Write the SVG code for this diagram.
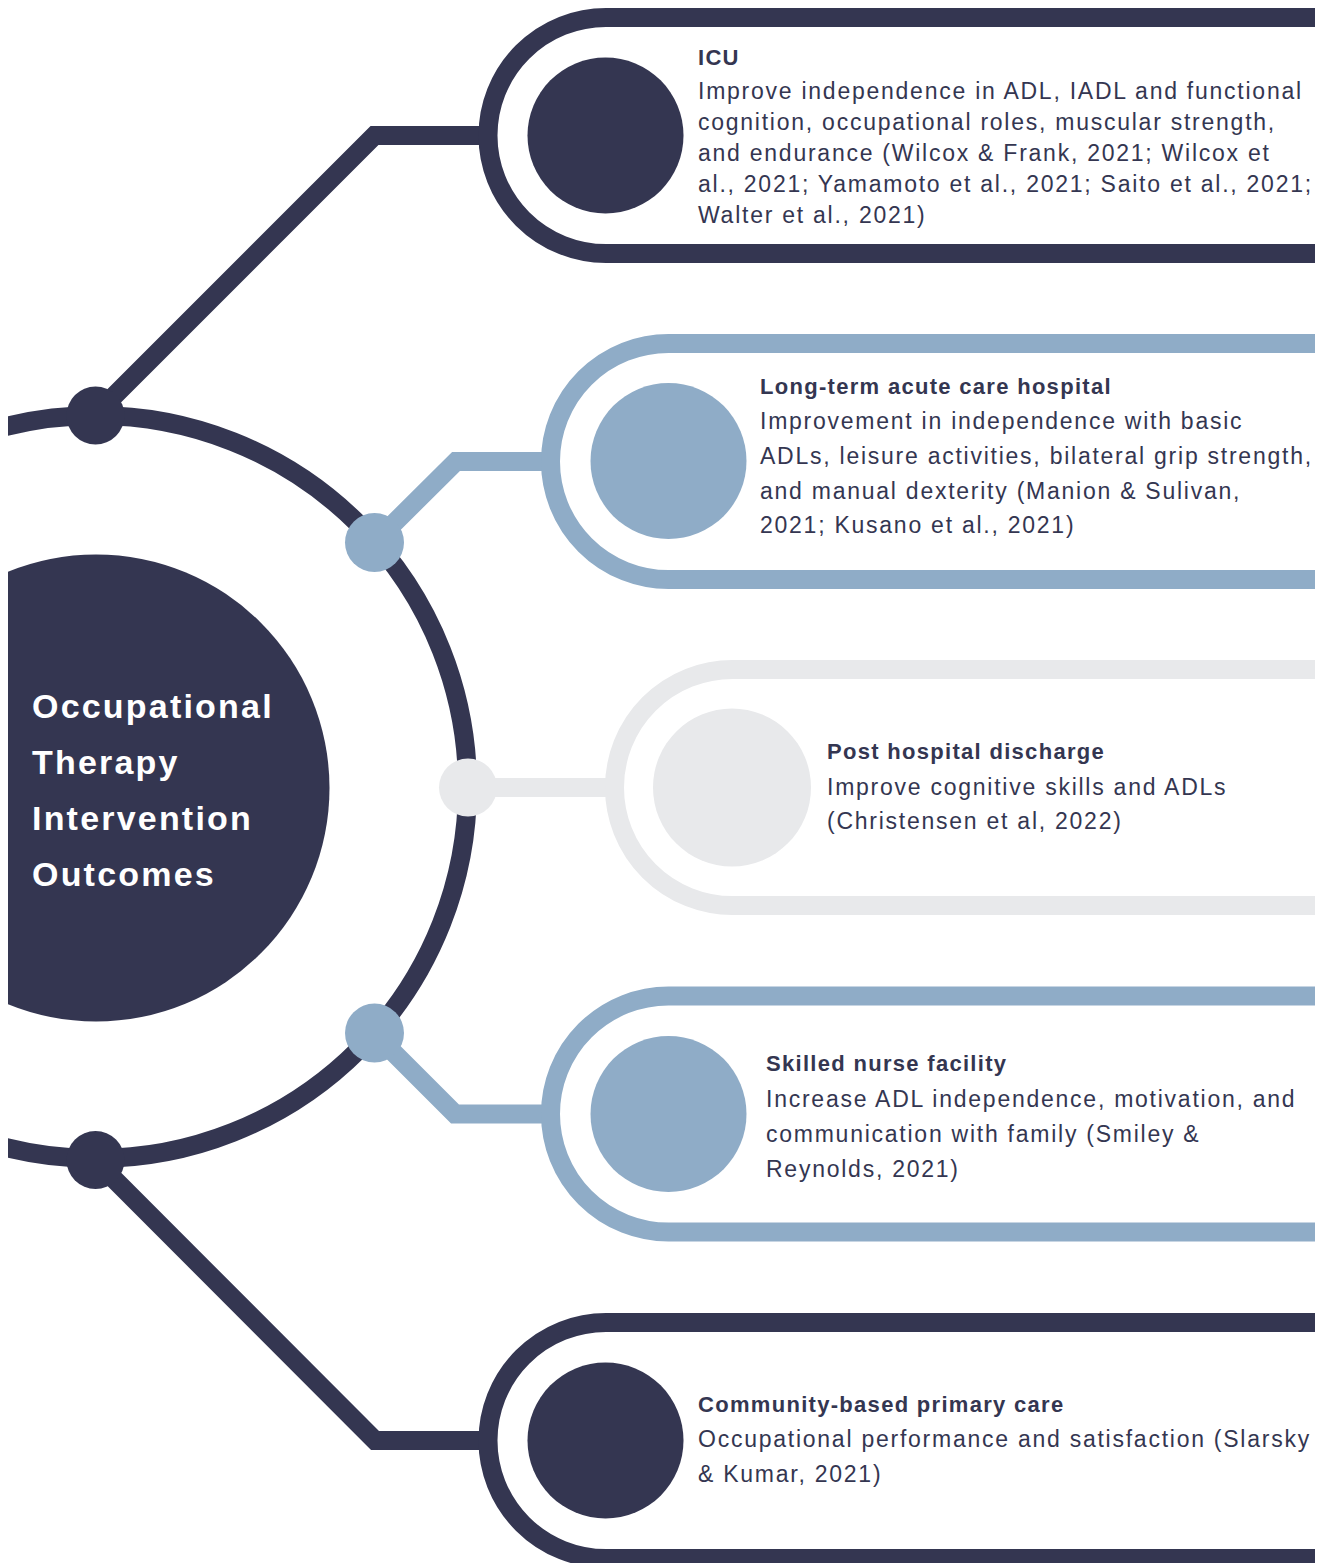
<svg xmlns="http://www.w3.org/2000/svg" width="1320" height="1563" viewBox="0 0 1320 1563">
<defs>
<style>
.dark{fill:#343651}
.blue{fill:#8facc7}
.gray{fill:#e8e9eb}
.ring{fill:none;stroke-width:19;stroke-linecap:butt}
.conn{fill:none;stroke-width:19;stroke-linejoin:miter;stroke-linecap:butt}
.sd{stroke:#343651}
.sb{stroke:#8facc7}
.sg{stroke:#e8e9eb}
.title{font-family:"Liberation Sans",Arial,sans-serif;font-weight:bold;font-size:22px;letter-spacing:1.3px;fill:#343651}
.body{font-family:"Liberation Sans",Arial,sans-serif;font-size:23px;letter-spacing:1.75px;fill:#343651}
.main{font-family:"Liberation Sans",Arial,sans-serif;font-weight:bold;font-size:34px;letter-spacing:2.2px;fill:#ffffff}
</style>
<clipPath id="clipL"><rect x="8" y="0" width="1312" height="1563"/></clipPath>
</defs>
<rect width="1320" height="1563" fill="#ffffff"/>

<g id="hub" clip-path="url(#clipL)">
<circle cx="96" cy="787" r="371.5" class="ring sd"/>
</g>

<g id="connectors">
<path class="conn sd" d="M95,415 L374.5,135.5 H490"/>
<path class="conn sb" d="M374,543 L456,461.5 H552"/>
<path class="conn sg" d="M468,787.5 H615"/>
<path class="conn sb" d="M374,1033 L455,1114 H552"/>
<path class="conn sd" d="M95,1160 L375,1440.5 H490"/>
</g>

<g id="dots">
<circle class="dark" cx="95.5" cy="415.5" r="29"/>
<circle class="blue" cx="374.5" cy="542.5" r="29.5"/>
<circle class="gray" cx="468" cy="787.5" r="29"/>
<circle class="blue" cx="374.5" cy="1033" r="29.5"/>
<circle class="dark" cx="95.5" cy="1160" r="29"/>
</g>

<g id="center-node" clip-path="url(#clipL)">
<circle class="dark" cx="96" cy="788" r="233.5"/>
<text class="main" x="32" y="718">Occupational</text>
<text class="main" x="32" y="774">Therapy</text>
<text class="main" x="32" y="830">Intervention</text>
<text class="main" x="32" y="886">Outcomes</text>
</g>

<g id="node-icu">
<path class="ring sd" d="M1315,17.5 H606 A118,118 0 0 0 606,253.5 H1315"/>
<circle class="dark" cx="605.5" cy="135.5" r="78"/>
<text class="title" x="698" y="65">ICU</text>
<text class="body" x="698" y="99">Improve independence in ADL, IADL and functional</text>
<text class="body" x="698" y="130">cognition, occupational roles, muscular strength,</text>
<text class="body" x="698" y="161">and endurance (Wilcox &amp; Frank, 2021; Wilcox et</text>
<text class="body" x="698" y="192">al., 2021; Yamamoto et al., 2021; Saito et al., 2021;</text>
<text class="body" x="698" y="223">Walter et al., 2021)</text>
</g>

<g id="node-ltach">
<path class="ring sb" d="M1315,343.5 H668.5 A118,118 0 0 0 668.5,579.5 H1315"/>
<circle class="blue" cx="668.5" cy="461" r="78"/>
<text class="title" x="760" y="394">Long-term acute care hospital</text>
<text class="body" x="760" y="429">Improvement in independence with basic</text>
<text class="body" x="760" y="464">ADLs, leisure activities, bilateral grip strength,</text>
<text class="body" x="760" y="499">and manual dexterity (Manion &amp; Sulivan,</text>
<text class="body" x="760" y="533">2021; Kusano et al., 2021)</text>
</g>

<g id="node-post">
<path class="ring sg" d="M1315,669.5 H732.5 A118,118 0 0 0 732.5,905.5 H1315"/>
<circle class="gray" cx="732" cy="787.5" r="79"/>
<text class="title" x="827" y="759">Post hospital discharge</text>
<text class="body" x="827" y="795">Improve cognitive skills and ADLs</text>
<text class="body" x="827" y="829">(Christensen et al, 2022)</text>
</g>

<g id="node-snf">
<path class="ring sb" d="M1315,996 H668.5 A118,118 0 0 0 668.5,1232 H1315"/>
<circle class="blue" cx="668.5" cy="1114" r="78"/>
<text class="title" x="766" y="1071">Skilled nurse facility</text>
<text class="body" x="766" y="1107">Increase ADL independence, motivation, and</text>
<text class="body" x="766" y="1142">communication with family (Smiley &amp;</text>
<text class="body" x="766" y="1177">Reynolds, 2021)</text>
</g>

<g id="node-community">
<path class="ring sd" d="M1315,1322.5 H606 A118,118 0 0 0 606,1558.5 H1315"/>
<circle class="dark" cx="605.5" cy="1440.5" r="78"/>
<text class="title" x="698" y="1412">Community-based primary care</text>
<text class="body" x="698" y="1447">Occupational performance and satisfaction (Slarsky</text>
<text class="body" x="698" y="1482">&amp; Kumar, 2021)</text>
</g>
</svg>
